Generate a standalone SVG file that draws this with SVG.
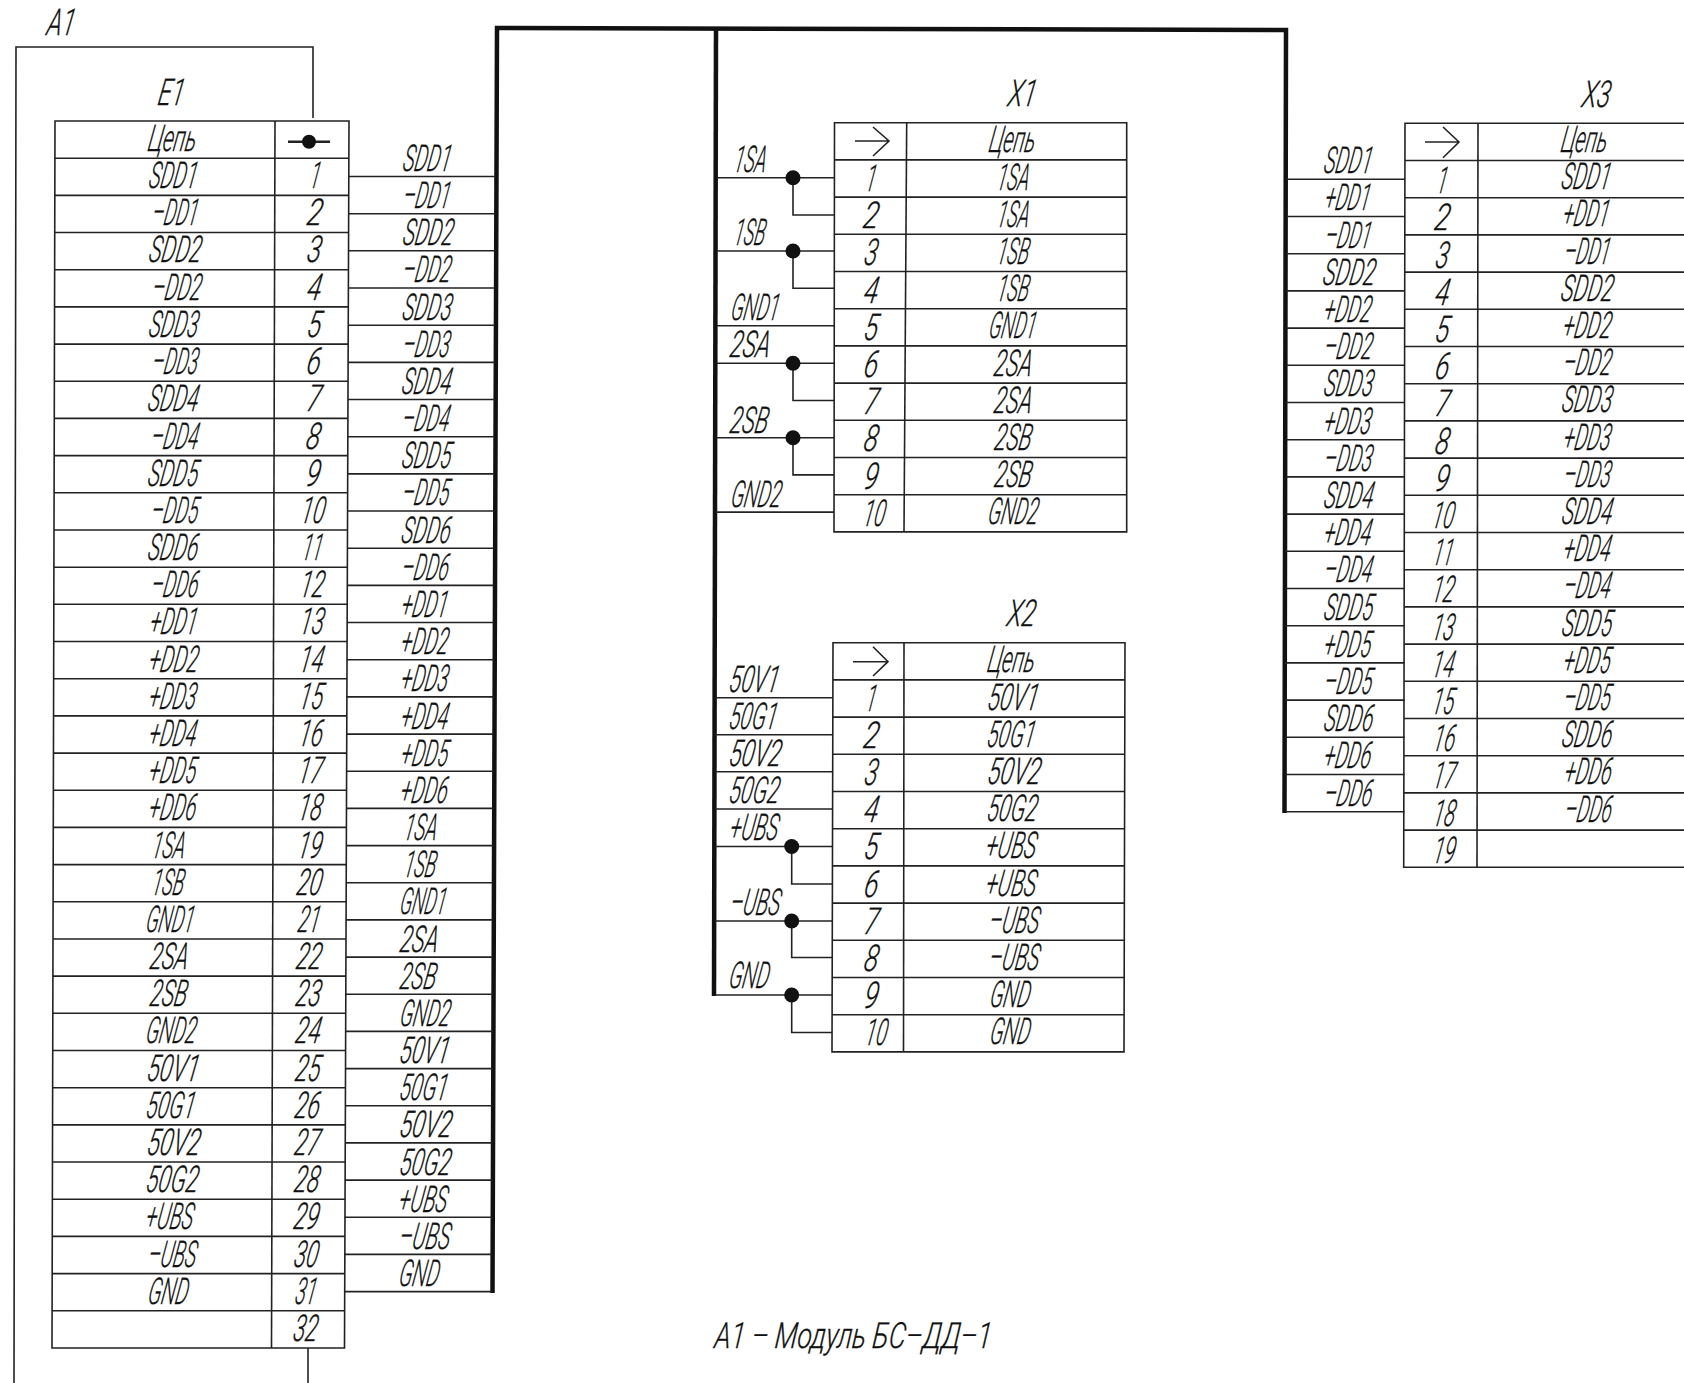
<svg xmlns="http://www.w3.org/2000/svg" width="1684" height="1383" viewBox="0 0 1684 1383">
<style>
text{font-family:Roboto,"Liberation Sans",sans-serif;font-size:37px;font-style:italic;font-weight:300;fill:#111;stroke:#111;stroke-width:.3;transform-box:fill-box;transform-origin:center;transform:skewX(-10deg)}
.m{text-anchor:middle}
.l{fill:none;stroke:#222;stroke-width:1.6}
.b{fill:none;stroke:#111;stroke-width:4.5}
.d{fill:#111}
.cap{font-size:36px;transform:skewX(-6deg)}
</style>
<rect width="1684" height="1383" fill="#fff"/>
<g id="frame-A1">
<path class="l" d="M313 118V47H16L14 1383"/>
<path class="l" d="M308 1348V1383"/>
<text class="m" x="62" y="35" textLength="28" lengthAdjust="spacingAndGlyphs">A1</text>
</g>
<g id="connectors">
<path class="b" d="M492.5 1293L497 28L1286 30L1284.5 813"/>
<path class="b" d="M716 28L714 996"/>
<g id="wires-E1">
<path class="l" d="M348.7 176.5H495.5"/><path class="l" d="M348.5 213.7H495.4"/><path class="l" d="M348.4 250.8H495.3"/><path class="l" d="M348.2 288H495.1"/><path class="l" d="M348.1 325.2H495"/><path class="l" d="M348 362.4H494.9"/><path class="l" d="M347.8 399.5H494.8"/><path class="l" d="M347.7 436.7H494.7"/><path class="l" d="M347.5 473.9H494.6"/><path class="l" d="M347.4 511H494.4"/><path class="l" d="M347.3 548.2H494.3"/><path class="l" d="M347.1 585.4H494.2"/><path class="l" d="M347 622.5H494.1"/><path class="l" d="M346.8 659.7H494"/><path class="l" d="M346.7 696.9H493.9"/><path class="l" d="M346.6 734.1H493.8"/><path class="l" d="M346.4 771.2H493.6"/><path class="l" d="M346.3 808.4H493.5"/><path class="l" d="M346.1 845.6H493.4"/><path class="l" d="M346 882.7H493.3"/><path class="l" d="M345.9 919.9H493.2"/><path class="l" d="M345.7 957.1H493.1"/><path class="l" d="M345.6 994.2H493"/><path class="l" d="M345.4 1031.4H492.8"/><path class="l" d="M345.3 1068.6H492.7"/><path class="l" d="M345.2 1105.8H492.6"/><path class="l" d="M345 1142.9H492.5"/><path class="l" d="M344.9 1180.1H492.4"/><path class="l" d="M344.7 1217.3H492.3"/><path class="l" d="M344.6 1254.4H492.2"/><path class="l" d="M344.5 1291.6H492"/>
</g>
<g id="wires-X1">
<path class="l" d="M717 177.7H834.5"/><path class="l" d="M793 177.7V215H834.5"/><path class="l" d="M717 251H834.5"/><path class="l" d="M793 251V288.3H834.5"/><path class="l" d="M717 325.7H834.5"/><path class="l" d="M717 363.3H834.5"/><path class="l" d="M793 363.3V400.5H834.5"/><path class="l" d="M716 437.7H834"/><path class="l" d="M793 437.7V474.9H834"/><path class="l" d="M716 512.1H834"/>
<circle class="d" cx="793" cy="177.7" r="7.5"/><circle class="d" cx="793" cy="251" r="7.5"/><circle class="d" cx="793" cy="363.3" r="7.5"/><circle class="d" cx="793" cy="437.7" r="7.5"/>
</g>
<g id="wires-X2">
<path class="l" d="M715 697.7H833"/><path class="l" d="M715 734.7H833"/><path class="l" d="M715 771.7H833"/><path class="l" d="M715 809H833"/><path class="l" d="M715 846.5H833"/><path class="l" d="M791.7 846.5V884H833"/><path class="l" d="M715 921H832"/><path class="l" d="M791.7 921V957.5H832"/><path class="l" d="M715 995H832"/><path class="l" d="M791.7 995V1032.5H832"/>
<circle class="d" cx="791.7" cy="846.5" r="7.5"/><circle class="d" cx="791.7" cy="921" r="7.5"/><circle class="d" cx="791.7" cy="995" r="7.5"/>
</g>
<g id="wires-X3">
<path class="l" d="M1286 179.3H1405"/><path class="l" d="M1286 216.5H1405"/><path class="l" d="M1286 253.7H1405"/><path class="l" d="M1286 290.9H1405"/><path class="l" d="M1286 328.1H1405"/><path class="l" d="M1286 365.3H1405"/><path class="l" d="M1286 402.5H1405"/><path class="l" d="M1286 439.7H1405"/><path class="l" d="M1286 476.9H1405"/><path class="l" d="M1286 514.1H1405"/><path class="l" d="M1285 551.3H1404.5"/><path class="l" d="M1285 588.5H1404.5"/><path class="l" d="M1285 625.7H1404.5"/><path class="l" d="M1285 662.9H1404.5"/><path class="l" d="M1285 700.1H1404.5"/><path class="l" d="M1285 737.3H1404.5"/><path class="l" d="M1285 774.5H1404.5"/><path class="l" d="M1285 811.7H1404.5"/>
</g>
<g id="wire-labels-E1">
<text x="404" y="171" textLength="48" lengthAdjust="spacingAndGlyphs">SDD1</text>
<text x="404" y="208.2" textLength="47" lengthAdjust="spacingAndGlyphs">–DD1</text>
<text x="404" y="245.3" textLength="50" lengthAdjust="spacingAndGlyphs">SDD2</text>
<text x="403.5" y="282.5" textLength="48" lengthAdjust="spacingAndGlyphs">–DD2</text>
<text x="403.5" y="319.7" textLength="49" lengthAdjust="spacingAndGlyphs">SDD3</text>
<text x="403.5" y="356.9" textLength="47" lengthAdjust="spacingAndGlyphs">–DD3</text>
<text x="403" y="394" textLength="49" lengthAdjust="spacingAndGlyphs">SDD4</text>
<text x="403" y="431.2" textLength="47" lengthAdjust="spacingAndGlyphs">–DD4</text>
<text x="403" y="468.4" textLength="49" lengthAdjust="spacingAndGlyphs">SDD5</text>
<text x="403" y="505.5" textLength="47" lengthAdjust="spacingAndGlyphs">–DD5</text>
<text x="402.5" y="542.7" textLength="49" lengthAdjust="spacingAndGlyphs">SDD6</text>
<text x="402.5" y="579.9" textLength="47" lengthAdjust="spacingAndGlyphs">–DD6</text>
<text x="402.5" y="617" textLength="46" lengthAdjust="spacingAndGlyphs">+DD1</text>
<text x="402" y="654.2" textLength="47" lengthAdjust="spacingAndGlyphs">+DD2</text>
<text x="402" y="691.4" textLength="47" lengthAdjust="spacingAndGlyphs">+DD3</text>
<text x="402" y="728.6" textLength="47" lengthAdjust="spacingAndGlyphs">+DD4</text>
<text x="402" y="765.7" textLength="47" lengthAdjust="spacingAndGlyphs">+DD5</text>
<text x="401.5" y="802.9" textLength="47" lengthAdjust="spacingAndGlyphs">+DD6</text>
<text x="405" y="840.1" textLength="33" lengthAdjust="spacingAndGlyphs">1SA</text>
<text x="405" y="877.2" textLength="32" lengthAdjust="spacingAndGlyphs">1SB</text>
<text x="401" y="914.4" textLength="46" lengthAdjust="spacingAndGlyphs">GND1</text>
<text x="401" y="951.6" textLength="38" lengthAdjust="spacingAndGlyphs">2SA</text>
<text x="401" y="988.7" textLength="36" lengthAdjust="spacingAndGlyphs">2SB</text>
<text x="401" y="1025.9" textLength="50" lengthAdjust="spacingAndGlyphs">GND2</text>
<text x="400.5" y="1063.1" textLength="50" lengthAdjust="spacingAndGlyphs">50V1</text>
<text x="400.5" y="1100.3" textLength="48" lengthAdjust="spacingAndGlyphs">50G1</text>
<text x="400.5" y="1137.4" textLength="52" lengthAdjust="spacingAndGlyphs">50V2</text>
<text x="400.5" y="1174.6" textLength="51" lengthAdjust="spacingAndGlyphs">50G2</text>
<text x="400" y="1211.8" textLength="48" lengthAdjust="spacingAndGlyphs">+UBS</text>
<text x="400" y="1248.9" textLength="51" lengthAdjust="spacingAndGlyphs">–UBS</text>
<text x="400" y="1286.1" textLength="40" lengthAdjust="spacingAndGlyphs">GND</text>
</g>
<g id="wire-labels-X1">
<text x="735" y="172" textLength="32" lengthAdjust="spacingAndGlyphs">1SA</text>
<text x="735" y="245" textLength="31" lengthAdjust="spacingAndGlyphs">1SB</text>
<text x="732" y="320" textLength="48" lengthAdjust="spacingAndGlyphs">GND1</text>
<text x="731" y="357" textLength="40" lengthAdjust="spacingAndGlyphs">2SA</text>
<text x="731" y="433" textLength="38" lengthAdjust="spacingAndGlyphs">2SB</text>
<text x="732" y="507" textLength="50" lengthAdjust="spacingAndGlyphs">GND2</text>
</g>
<g id="wire-labels-X2">
<text x="730" y="691.7" textLength="50" lengthAdjust="spacingAndGlyphs">50V1</text>
<text x="730" y="729" textLength="48" lengthAdjust="spacingAndGlyphs">50G1</text>
<text x="730" y="766" textLength="52" lengthAdjust="spacingAndGlyphs">50V2</text>
<text x="730" y="803" textLength="50" lengthAdjust="spacingAndGlyphs">50G2</text>
<text x="731" y="840" textLength="48" lengthAdjust="spacingAndGlyphs">+UBS</text>
<text x="731" y="915" textLength="50" lengthAdjust="spacingAndGlyphs">–UBS</text>
<text x="730" y="988" textLength="40" lengthAdjust="spacingAndGlyphs">GND</text>
</g>
<g id="wire-labels-X3">
<text x="1325" y="173.3" textLength="48" lengthAdjust="spacingAndGlyphs">SDD1</text>
<text x="1326" y="210.5" textLength="45" lengthAdjust="spacingAndGlyphs">+DD1</text>
<text x="1326" y="247.7" textLength="46" lengthAdjust="spacingAndGlyphs">–DD1</text>
<text x="1324" y="284.9" textLength="52" lengthAdjust="spacingAndGlyphs">SDD2</text>
<text x="1325" y="322.1" textLength="47" lengthAdjust="spacingAndGlyphs">+DD2</text>
<text x="1325" y="359.3" textLength="48" lengthAdjust="spacingAndGlyphs">–DD2</text>
<text x="1325" y="396.5" textLength="49" lengthAdjust="spacingAndGlyphs">SDD3</text>
<text x="1325" y="433.7" textLength="47" lengthAdjust="spacingAndGlyphs">+DD3</text>
<text x="1325" y="470.9" textLength="48" lengthAdjust="spacingAndGlyphs">–DD3</text>
<text x="1325" y="508.1" textLength="49" lengthAdjust="spacingAndGlyphs">SDD4</text>
<text x="1325" y="545.3" textLength="47" lengthAdjust="spacingAndGlyphs">+DD4</text>
<text x="1325" y="582.5" textLength="48" lengthAdjust="spacingAndGlyphs">–DD4</text>
<text x="1325" y="619.7" textLength="49" lengthAdjust="spacingAndGlyphs">SDD5</text>
<text x="1325" y="656.9" textLength="47" lengthAdjust="spacingAndGlyphs">+DD5</text>
<text x="1325" y="694.1" textLength="48" lengthAdjust="spacingAndGlyphs">–DD5</text>
<text x="1325" y="731.3" textLength="49" lengthAdjust="spacingAndGlyphs">SDD6</text>
<text x="1325" y="768.5" textLength="47" lengthAdjust="spacingAndGlyphs">+DD6</text>
<text x="1325" y="805.7" textLength="48" lengthAdjust="spacingAndGlyphs">–DD6</text>
</g>
</g>
<g id="E1">
<text class="m" x="172" y="105" textLength="26" lengthAdjust="spacingAndGlyphs">E1</text>
<path class="l" d="M55 121H349L344.5 1348H52Z"/>
<path class="l" d="M275 121L271.5 1348"/>
<path class="l" d="M54.9 158.2H348.9M54.8 195.4H348.7M54.7 232.5H348.6M54.6 269.7H348.5M54.6 306.9H348.3M54.5 344.1H348.2M54.4 381.3H348M54.3 418.4H347.9M54.2 455.6H347.8M54.1 492.8H347.6M54 530H347.5M53.9 567.2H347.4M53.8 604.3H347.2M53.7 641.5H347.1M53.7 678.7H347M53.6 715.9H346.8M53.5 753.1H346.7M53.4 790.2H346.6M53.3 827.4H346.4M53.2 864.6H346.3M53.1 901.8H346.1M53 939H346M52.9 976.1H345.9M52.8 1013.3H345.7M52.8 1050.5H345.6M52.7 1087.7H345.5M52.6 1124.9H345.3M52.5 1162H345.2M52.4 1199.2H345.1M52.3 1236.4H344.9M52.2 1273.6H344.8M52.1 1310.8H344.6"/>
<path class="l" style="stroke-width:2.4" d="M288 141.7H330"/>
<circle class="d" cx="309" cy="141.7" r="7"/>
<text x="149" y="151.2" textLength="48" lengthAdjust="spacingAndGlyphs">Цепь</text>
<text x="150" y="188.2" textLength="48" lengthAdjust="spacingAndGlyphs">SDD1</text><text class="m" x="316" y="188.2" textLength="10" lengthAdjust="spacingAndGlyphs">1</text>
<text x="153" y="225.4" textLength="46" lengthAdjust="spacingAndGlyphs">–DD1</text><text class="m" x="315.5" y="225.4" textLength="15" lengthAdjust="spacingAndGlyphs">2</text>
<text x="150" y="262.5" textLength="52" lengthAdjust="spacingAndGlyphs">SDD2</text><text class="m" x="315" y="262.5" textLength="14" lengthAdjust="spacingAndGlyphs">3</text>
<text x="153" y="299.9" textLength="49" lengthAdjust="spacingAndGlyphs">–DD2</text><text class="m" x="315" y="299.9" textLength="14" lengthAdjust="spacingAndGlyphs">4</text>
<text x="150" y="337.1" textLength="49" lengthAdjust="spacingAndGlyphs">SDD3</text><text class="m" x="315" y="337.1" textLength="14" lengthAdjust="spacingAndGlyphs">5</text>
<text x="153" y="374.3" textLength="46" lengthAdjust="spacingAndGlyphs">–DD3</text><text class="m" x="314.5" y="374.3" textLength="14" lengthAdjust="spacingAndGlyphs">6</text>
<text x="149" y="411.4" textLength="50" lengthAdjust="spacingAndGlyphs">SDD4</text><text class="m" x="314.5" y="411.4" textLength="14" lengthAdjust="spacingAndGlyphs">7</text>
<text x="152" y="448.6" textLength="47" lengthAdjust="spacingAndGlyphs">–DD4</text><text class="m" x="314" y="448.6" textLength="14" lengthAdjust="spacingAndGlyphs">8</text>
<text x="149" y="485.8" textLength="50" lengthAdjust="spacingAndGlyphs">SDD5</text><text class="m" x="314" y="485.8" textLength="14" lengthAdjust="spacingAndGlyphs">9</text>
<text x="152" y="523" textLength="47" lengthAdjust="spacingAndGlyphs">–DD5</text><text class="m" x="313.7" y="523" textLength="24" lengthAdjust="spacingAndGlyphs">10</text>
<text x="149" y="560.2" textLength="50" lengthAdjust="spacingAndGlyphs">SDD6</text><text class="m" x="313.4" y="560.2" textLength="20" lengthAdjust="spacingAndGlyphs">11</text>
<text x="152" y="597.3" textLength="47" lengthAdjust="spacingAndGlyphs">–DD6</text><text class="m" x="313" y="597.3" textLength="24" lengthAdjust="spacingAndGlyphs">12</text>
<text x="151" y="634.5" textLength="47" lengthAdjust="spacingAndGlyphs">+DD1</text><text class="m" x="312.7" y="634.5" textLength="24" lengthAdjust="spacingAndGlyphs">13</text>
<text x="150" y="671.7" textLength="49" lengthAdjust="spacingAndGlyphs">+DD2</text><text class="m" x="312.4" y="671.7" textLength="24" lengthAdjust="spacingAndGlyphs">14</text>
<text x="150" y="708.9" textLength="47" lengthAdjust="spacingAndGlyphs">+DD3</text><text class="m" x="312" y="708.9" textLength="24" lengthAdjust="spacingAndGlyphs">15</text>
<text x="150" y="746.1" textLength="47" lengthAdjust="spacingAndGlyphs">+DD4</text><text class="m" x="311.7" y="746.1" textLength="24" lengthAdjust="spacingAndGlyphs">16</text>
<text x="150" y="783.2" textLength="47" lengthAdjust="spacingAndGlyphs">+DD5</text><text class="m" x="311.4" y="783.2" textLength="24" lengthAdjust="spacingAndGlyphs">17</text>
<text x="150" y="820.4" textLength="47" lengthAdjust="spacingAndGlyphs">+DD6</text><text class="m" x="311" y="820.4" textLength="24" lengthAdjust="spacingAndGlyphs">18</text>
<text x="153" y="857.6" textLength="33" lengthAdjust="spacingAndGlyphs">1SA</text><text class="m" x="310.7" y="857.6" textLength="24" lengthAdjust="spacingAndGlyphs">19</text>
<text x="153" y="894.8" textLength="32" lengthAdjust="spacingAndGlyphs">1SB</text><text class="m" x="310.4" y="894.8" textLength="25" lengthAdjust="spacingAndGlyphs">20</text>
<text x="147" y="932" textLength="48" lengthAdjust="spacingAndGlyphs">GND1</text><text class="m" x="310" y="932" textLength="22" lengthAdjust="spacingAndGlyphs">21</text>
<text x="151" y="969.1" textLength="38" lengthAdjust="spacingAndGlyphs">2SA</text><text class="m" x="309.7" y="969.1" textLength="25" lengthAdjust="spacingAndGlyphs">22</text>
<text x="151" y="1006.3" textLength="37" lengthAdjust="spacingAndGlyphs">2SB</text><text class="m" x="309.4" y="1006.3" textLength="25" lengthAdjust="spacingAndGlyphs">23</text>
<text x="147" y="1043.5" textLength="50" lengthAdjust="spacingAndGlyphs">GND2</text><text class="m" x="309" y="1043.5" textLength="25" lengthAdjust="spacingAndGlyphs">24</text>
<text x="148" y="1080.7" textLength="52" lengthAdjust="spacingAndGlyphs">50V1</text><text class="m" x="308.7" y="1080.7" textLength="25" lengthAdjust="spacingAndGlyphs">25</text>
<text x="147" y="1117.9" textLength="49" lengthAdjust="spacingAndGlyphs">50G1</text><text class="m" x="308.4" y="1117.9" textLength="25" lengthAdjust="spacingAndGlyphs">26</text>
<text x="148" y="1155" textLength="53" lengthAdjust="spacingAndGlyphs">50V2</text><text class="m" x="308" y="1155" textLength="25" lengthAdjust="spacingAndGlyphs">27</text>
<text x="147" y="1192.2" textLength="52" lengthAdjust="spacingAndGlyphs">50G2</text><text class="m" x="307.7" y="1192.2" textLength="25" lengthAdjust="spacingAndGlyphs">28</text>
<text x="147" y="1229.4" textLength="47" lengthAdjust="spacingAndGlyphs">+UBS</text><text class="m" x="307.4" y="1229.4" textLength="25" lengthAdjust="spacingAndGlyphs">29</text>
<text x="149" y="1266.6" textLength="48" lengthAdjust="spacingAndGlyphs">–UBS</text><text class="m" x="307" y="1266.6" textLength="24" lengthAdjust="spacingAndGlyphs">30</text>
<text x="149" y="1303.8" textLength="40" lengthAdjust="spacingAndGlyphs">GND</text><text class="m" x="306.7" y="1303.8" textLength="21" lengthAdjust="spacingAndGlyphs">31</text>
<text class="m" x="306.4" y="1341" textLength="24" lengthAdjust="spacingAndGlyphs">32</text>
</g>
<g id="X1">
<text class="m" x="1023" y="106" textLength="28" lengthAdjust="spacingAndGlyphs">X1</text>
<path class="l" d="M834.5 122.7H1126.7V531.9H834Z"/>
<path class="l" d="M906.7 122.7L904 531.9"/>
<path class="l" d="M834.5 159.9H1126.7M834.5 197.1H1126.7M834.5 234.3H1126.6M834.5 271.5H1126.6M834.5 308.7H1126.6M834.4 345.9H1126.4M834.3 383.1H1126.4M834.2 420.3H1126.2M834.1 457.5H1126.2M834 494.7H1126"/>
<path class="l" d="M855 141H889M873 127L889 141L873 156"/>
<text class="m" x="1013" y="152.4" textLength="46" lengthAdjust="spacingAndGlyphs">Цепь</text>
<text class="m" x="871.7" y="191.1" textLength="10" lengthAdjust="spacingAndGlyphs">1</text><text class="m" x="1014" y="189.6" textLength="32" lengthAdjust="spacingAndGlyphs">1SA</text>
<text class="m" x="871.7" y="228.3" textLength="15" lengthAdjust="spacingAndGlyphs">2</text><text class="m" x="1014" y="226.8" textLength="32" lengthAdjust="spacingAndGlyphs">1SA</text>
<text class="m" x="871.7" y="265.5" textLength="13" lengthAdjust="spacingAndGlyphs">3</text><text class="m" x="1014" y="264" textLength="32" lengthAdjust="spacingAndGlyphs">1SB</text>
<text class="m" x="871.7" y="302.7" textLength="14" lengthAdjust="spacingAndGlyphs">4</text><text class="m" x="1014" y="301.2" textLength="32" lengthAdjust="spacingAndGlyphs">1SB</text>
<text class="m" x="871.7" y="339.9" textLength="14" lengthAdjust="spacingAndGlyphs">5</text><text class="m" x="1013.5" y="338.4" textLength="47" lengthAdjust="spacingAndGlyphs">GND1</text>
<text class="m" x="871.7" y="377.1" textLength="14" lengthAdjust="spacingAndGlyphs">6</text><text class="m" x="1014" y="375.6" textLength="38" lengthAdjust="spacingAndGlyphs">2SA</text>
<text class="m" x="871.7" y="414.3" textLength="14" lengthAdjust="spacingAndGlyphs">7</text><text class="m" x="1014" y="412.8" textLength="38" lengthAdjust="spacingAndGlyphs">2SA</text>
<text class="m" x="871.7" y="451.5" textLength="14" lengthAdjust="spacingAndGlyphs">8</text><text class="m" x="1014" y="450" textLength="37" lengthAdjust="spacingAndGlyphs">2SB</text>
<text class="m" x="871.7" y="488.7" textLength="14" lengthAdjust="spacingAndGlyphs">9</text><text class="m" x="1014" y="487.2" textLength="37" lengthAdjust="spacingAndGlyphs">2SB</text>
<text class="m" x="875" y="525.9" textLength="22" lengthAdjust="spacingAndGlyphs">10</text><text class="m" x="1014" y="524.4" textLength="50" lengthAdjust="spacingAndGlyphs">GND2</text>
</g>
<g id="X2">
<text class="m" x="1022" y="626" textLength="28" lengthAdjust="spacingAndGlyphs">X2</text>
<path class="l" d="M833 642.7H1125L1124 1051.9H832Z"/>
<path class="l" d="M904 642.7L903.5 1051.9"/>
<path class="l" d="M833 679.9H1125M833 717.1H1125M833 754.3H1125M832.9 791.5H1125M832.8 828.7H1124.8M832.6 865.9H1124.6M832.4 903.1H1124.5M832.3 940.3H1124.3M832.2 977.5H1124.2M832 1014.7H1124"/>
<path class="l" d="M853 661.7H888M873 646.7L888 661.7L873 676"/>
<text class="m" x="1012" y="672.4" textLength="47" lengthAdjust="spacingAndGlyphs">Цепь</text>
<text class="m" x="872" y="710.6" textLength="10" lengthAdjust="spacingAndGlyphs">1</text><text class="m" x="1014" y="709.6" textLength="51" lengthAdjust="spacingAndGlyphs">50V1</text>
<text class="m" x="872" y="747.8" textLength="15" lengthAdjust="spacingAndGlyphs">2</text><text class="m" x="1012" y="746.8" textLength="48" lengthAdjust="spacingAndGlyphs">50G1</text>
<text class="m" x="872" y="785" textLength="13" lengthAdjust="spacingAndGlyphs">3</text><text class="m" x="1015" y="784" textLength="53" lengthAdjust="spacingAndGlyphs">50V2</text>
<text class="m" x="872" y="822.2" textLength="14" lengthAdjust="spacingAndGlyphs">4</text><text class="m" x="1013" y="821.2" textLength="50" lengthAdjust="spacingAndGlyphs">50G2</text>
<text class="m" x="872" y="859.4" textLength="14" lengthAdjust="spacingAndGlyphs">5</text><text class="m" x="1012" y="858.4" textLength="50" lengthAdjust="spacingAndGlyphs">+UBS</text>
<text class="m" x="872" y="896.6" textLength="14" lengthAdjust="spacingAndGlyphs">6</text><text class="m" x="1012" y="895.6" textLength="50" lengthAdjust="spacingAndGlyphs">+UBS</text>
<text class="m" x="872" y="933.8" textLength="14" lengthAdjust="spacingAndGlyphs">7</text><text class="m" x="1015" y="932.8" textLength="50" lengthAdjust="spacingAndGlyphs">–UBS</text>
<text class="m" x="872" y="971" textLength="14" lengthAdjust="spacingAndGlyphs">8</text><text class="m" x="1015" y="970" textLength="50" lengthAdjust="spacingAndGlyphs">–UBS</text>
<text class="m" x="872" y="1008.2" textLength="14" lengthAdjust="spacingAndGlyphs">9</text><text class="m" x="1011" y="1007.2" textLength="40" lengthAdjust="spacingAndGlyphs">GND</text>
<text class="m" x="877" y="1045.4" textLength="22" lengthAdjust="spacingAndGlyphs">10</text><text class="m" x="1011" y="1044.4" textLength="40" lengthAdjust="spacingAndGlyphs">GND</text>
</g>
<g id="X3">
<text class="m" x="1597" y="107" textLength="28" lengthAdjust="spacingAndGlyphs">X3</text>
<path class="l" d="M1684 123.3H1405L1403.7 867.3H1684"/>
<path class="l" d="M1478 123.3L1477 867.3"/>
<path class="l" d="M1405 160.5H1684M1405 197.7H1684M1405 234.9H1684M1405 272.1H1684M1405 309.3H1684M1405 346.5H1684M1404.6 383.7H1684M1404.6 420.9H1684M1404.6 458.1H1684M1404.5 495.3H1684M1404.5 532.5H1684M1404.4 569.7H1684M1404.3 606.9H1684M1404.2 644.1H1684M1404.1 681.3H1684M1404 718.5H1684M1404 755.7H1684M1403.8 792.9H1684M1403.8 830.1H1684"/>
<path class="l" d="M1425 142H1459M1443 127L1459 142L1443 157.7"/>
<text class="m" x="1585" y="152.5" textLength="46" lengthAdjust="spacingAndGlyphs">Цепь</text>
<text class="m" x="1443" y="193.2" textLength="10" lengthAdjust="spacingAndGlyphs">1</text><text class="m" x="1587" y="189.2" textLength="49" lengthAdjust="spacingAndGlyphs">SDD1</text>
<text class="m" x="1443" y="230.4" textLength="15" lengthAdjust="spacingAndGlyphs">2</text><text class="m" x="1587" y="226.4" textLength="46" lengthAdjust="spacingAndGlyphs">+DD1</text>
<text class="m" x="1443" y="267.6" textLength="13" lengthAdjust="spacingAndGlyphs">3</text><text class="m" x="1588" y="263.6" textLength="46" lengthAdjust="spacingAndGlyphs">–DD1</text>
<text class="m" x="1443" y="304.8" textLength="14" lengthAdjust="spacingAndGlyphs">4</text><text class="m" x="1588" y="300.8" textLength="52" lengthAdjust="spacingAndGlyphs">SDD2</text>
<text class="m" x="1443" y="342" textLength="14" lengthAdjust="spacingAndGlyphs">5</text><text class="m" x="1588" y="338" textLength="48" lengthAdjust="spacingAndGlyphs">+DD2</text>
<text class="m" x="1443" y="379.2" textLength="14" lengthAdjust="spacingAndGlyphs">6</text><text class="m" x="1588" y="375.2" textLength="48" lengthAdjust="spacingAndGlyphs">–DD2</text>
<text class="m" x="1443" y="416.4" textLength="14" lengthAdjust="spacingAndGlyphs">7</text><text class="m" x="1588" y="412.4" textLength="50" lengthAdjust="spacingAndGlyphs">SDD3</text>
<text class="m" x="1443" y="453.6" textLength="14" lengthAdjust="spacingAndGlyphs">8</text><text class="m" x="1588" y="449.6" textLength="47" lengthAdjust="spacingAndGlyphs">+DD3</text>
<text class="m" x="1443" y="490.8" textLength="14" lengthAdjust="spacingAndGlyphs">9</text><text class="m" x="1588" y="486.8" textLength="47" lengthAdjust="spacingAndGlyphs">–DD3</text>
<text class="m" x="1444" y="528" textLength="22" lengthAdjust="spacingAndGlyphs">10</text><text class="m" x="1588" y="524" textLength="50" lengthAdjust="spacingAndGlyphs">SDD4</text>
<text class="m" x="1444" y="565.2" textLength="20" lengthAdjust="spacingAndGlyphs">11</text><text class="m" x="1588" y="561.2" textLength="47" lengthAdjust="spacingAndGlyphs">+DD4</text>
<text class="m" x="1444" y="602.4" textLength="22" lengthAdjust="spacingAndGlyphs">12</text><text class="m" x="1588" y="598.4" textLength="47" lengthAdjust="spacingAndGlyphs">–DD4</text>
<text class="m" x="1444" y="639.6" textLength="22" lengthAdjust="spacingAndGlyphs">13</text><text class="m" x="1588" y="635.6" textLength="50" lengthAdjust="spacingAndGlyphs">SDD5</text>
<text class="m" x="1444" y="676.8" textLength="22" lengthAdjust="spacingAndGlyphs">14</text><text class="m" x="1588" y="672.8" textLength="47" lengthAdjust="spacingAndGlyphs">+DD5</text>
<text class="m" x="1444" y="714" textLength="22" lengthAdjust="spacingAndGlyphs">15</text><text class="m" x="1588" y="710" textLength="47" lengthAdjust="spacingAndGlyphs">–DD5</text>
<text class="m" x="1445" y="751.2" textLength="22" lengthAdjust="spacingAndGlyphs">16</text><text class="m" x="1588" y="747.2" textLength="50" lengthAdjust="spacingAndGlyphs">SDD6</text>
<text class="m" x="1445" y="788.4" textLength="22" lengthAdjust="spacingAndGlyphs">17</text><text class="m" x="1589" y="784.4" textLength="47" lengthAdjust="spacingAndGlyphs">+DD6</text>
<text class="m" x="1445" y="825.6" textLength="22" lengthAdjust="spacingAndGlyphs">18</text><text class="m" x="1589" y="821.6" textLength="47" lengthAdjust="spacingAndGlyphs">–DD6</text>
<text class="m" x="1445" y="862.8" textLength="22" lengthAdjust="spacingAndGlyphs">19</text>
</g>
<g id="caption">
<text x="715" y="1348" textLength="277" lengthAdjust="spacingAndGlyphs" class="cap">А1 – Модуль БС–ДД–1</text>
</g>
</svg>
